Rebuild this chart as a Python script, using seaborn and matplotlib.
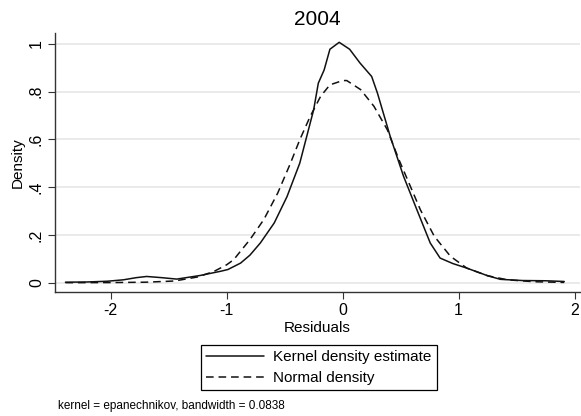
import pandas as pd
import matplotlib
matplotlib.use("Agg")
import matplotlib.pyplot as plt
import seaborn as sns

# kernel density estimate
kern_x = [-2.39, -2.2, -2.03, -1.89, -1.78, -1.69, -1.56, -1.43, -1.23, -1.05,
          -0.99, -0.88, -0.80, -0.71, -0.59, -0.48, -0.37, -0.31, -0.25, -0.21,
          -0.16, -0.11, -0.03, 0.06, 0.15, 0.25, 0.30, 0.41, 0.525, 0.64,
          0.755, 0.84, 0.95, 1.07, 1.25, 1.36, 1.55, 1.75, 1.91]
kern_y = [0.002, 0.003, 0.006, 0.012, 0.021, 0.026, 0.021, 0.015, 0.030, 0.048,
          0.055, 0.082, 0.115, 0.166, 0.25, 0.36, 0.50, 0.612, 0.724, 0.835,
          0.89, 0.977, 1.006, 0.977, 0.919, 0.863, 0.793, 0.612, 0.445, 0.305,
          0.166, 0.103, 0.080, 0.061, 0.029, 0.014, 0.009, 0.008, 0.005]

# normal density
norm_x = [-2.39, -2.0, -1.7, -1.45, -1.25, -1.11, -1.0, -0.94, -0.80, -0.68,
          -0.56, -0.45, -0.37, -0.28, -0.19, -0.11, 0.0, 0.035, 0.155, 0.27,
          0.385, 0.485, 0.56, 0.67, 0.79, 0.93, 1.07, 1.25, 1.42, 1.65, 1.91]
norm_y = [0.0, 0.0005, 0.002, 0.007, 0.024, 0.047, 0.075, 0.096, 0.18, 0.264,
          0.375, 0.50, 0.598, 0.696, 0.78, 0.828, 0.846, 0.846, 0.808, 0.738,
          0.64, 0.515, 0.43, 0.305, 0.194, 0.11, 0.061, 0.029, 0.012, 0.004, 0.001]

x_ticks = [-2, -1, 0, 1, 2]
x_labels = ["-2", "-1", "0", "1", "2"]
y_ticks = [0, 0.2, 0.4, 0.6, 0.8, 1]
y_labels = ["0", ".2", ".4", ".6", ".8", "1"]

sns.set_style("white")
plt.rcParams["font.family"] = ["Liberation Sans", "DejaVu Sans"]
plt.rcParams["text.color"] = "black"
plt.rcParams["axes.labelcolor"] = "black"
plt.rcParams["xtick.color"] = "black"
plt.rcParams["ytick.color"] = "black"

fig = plt.figure(figsize=(5.81, 4.16), dpi=100)
ax = fig.add_axes([55 / 581, 1 - 292 / 416, (580 - 55) / 581, (292 - 33) / 416])

df_k = pd.DataFrame({"x": kern_x, "y": kern_y})
df_n = pd.DataFrame({"x": norm_x, "y": norm_y})

sns.lineplot(data=df_k, x="x", y="y", ax=ax, color="#111111", linewidth=1.1,
             sort=False, estimator=None, label="Kernel density estimate")
sns.lineplot(data=df_n, x="x", y="y", ax=ax, color="#111111", linewidth=1.1,
             sort=False, estimator=None, label="Normal density")
ax.lines[1].set_dashes((5.0, 3.2))

ax.set_xlim(-2.48, 2.046)
ax.set_ylim(-0.039, 1.045)
ax.set_xticks(x_ticks)
ax.set_xticklabels(x_labels)
ax.set_yticks(y_ticks)
ax.set_yticklabels(y_labels, rotation=90, va="center")

ax.yaxis.grid(True, color="#e8e8e8", linewidth=1.3)
ax.xaxis.grid(False)
ax.set_axisbelow(True)

for s in ["top", "right"]:
    ax.spines[s].set_visible(False)
for s in ["left", "bottom"]:
    ax.spines[s].set_color("#333333")
    ax.spines[s].set_linewidth(1.0)

ax.tick_params(axis="both", direction="out", length=5, width=0.8,
               color="#333333", labelsize=11.5, pad=3, left=True, bottom=True)

ax.set_xlabel("Residuals", fontsize=11, labelpad=2)
ax.set_ylabel("Density", fontsize=11, labelpad=3)
ax.set_title("2004", fontsize=15, pad=6)

ax.get_legend().remove()
leg = fig.legend(loc="center", bbox_to_anchor=(319 / 581, 1 - 367.5 / 416),
                 frameon=True, fancybox=False, edgecolor="black", framealpha=1,
                 fontsize=11, handlelength=3.8, handletextpad=0.6,
                 borderpad=0.35, labelspacing=0.45)
leg.get_frame().set_linewidth(0.9)

fig.text(58 / 581, 1 - 406 / 416, "kernel = epanechnikov, bandwidth = 0.0838",
         fontsize=8.5, va="center", ha="left")

fig.savefig("out.png", dpi=100)
